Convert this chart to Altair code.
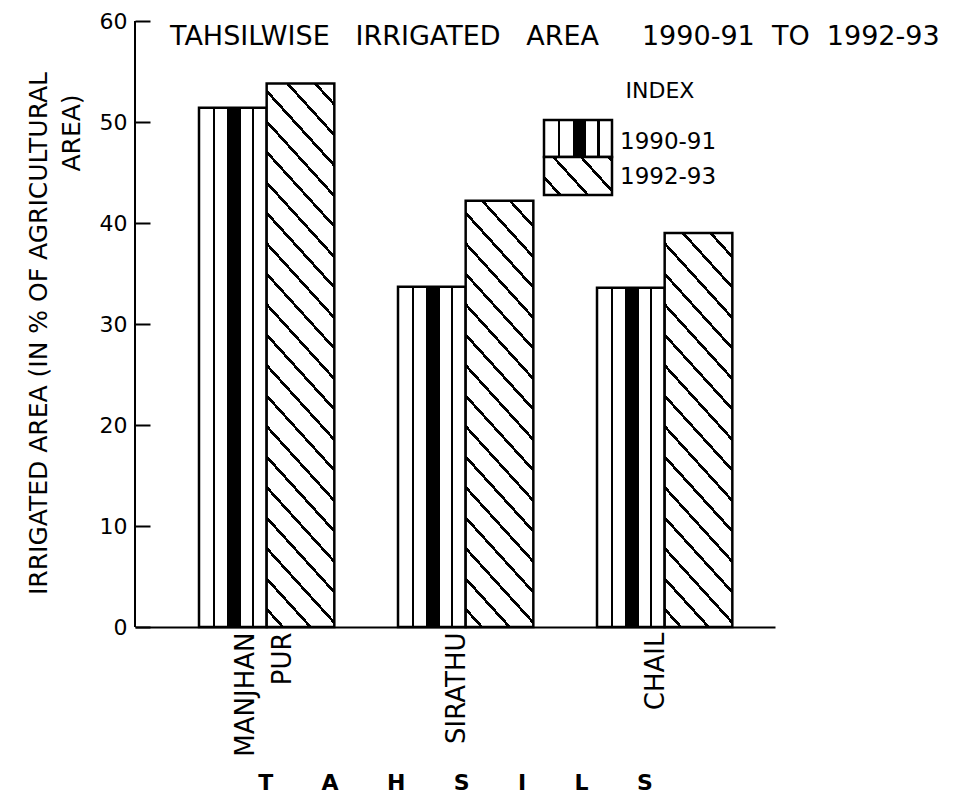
import math
import altair as alt
import pandas as pd

# ---------------- data ----------------
tahsils = ["MANJHAN PUR", "SIRATHU", "CHAIL"]
years = ["1990-91", "1992-93"]
area_1990_91 = [51.4, 33.7, 33.6]
area_1992_93 = [53.8, 42.2, 39.0]
y_ticks = [0, 10, 20, 30, 40, 50, 60]

chart_title = ("TAHSILWISE\u00a0\u00a0\u00a0IRRIGATED\u00a0\u00a0\u00a0AREA"
               "\u00a0\u00a0\u00a0\u00a0\u00a01990-91\u00a0\u00a0TO\u00a0\u00a01992-93")
y_title_1 = "IRRIGATED AREA (IN % OF AGRICULTURAL"
y_title_2 = "AREA)"
x_title = "\u2003\u2003\u2009".join(list("TAHSILS"))
legend_title = "INDEX"

rows = []
for t, a, b in zip(tahsils, area_1990_91, area_1992_93):
    rows.append({"tahsil": t, "year": years[0], "area": a})
    rows.append({"tahsil": t, "year": years[1], "area": b})
df = pd.DataFrame(rows)
legend_df = pd.DataFrame({"year": years})

# ---------------- layout / style ----------------
FONT = "DejaVu Sans"
W, H = 640, 606
Y_MAX = 60
P_INNER, P_OUTER, ALIGN = 0.32, 0.268, 0.6
step = W / (len(tahsils) - P_INNER + 2 * P_OUTER)
bar_w = step * (1 - P_INNER) / 2
px_per_unit = H / Y_MAX


def stops_from(intervals):
    """intervals: list of (t0, t1) black bands within [0, 1]"""
    s = [alt.GradientStop(offset=0, color="white")]
    for t0, t1 in intervals:
        t0 = max(0.0, min(1.0, t0))
        t1 = max(0.0, min(1.0, t1))
        s += [alt.GradientStop(offset=t0, color="white"),
              alt.GradientStop(offset=t0, color="black"),
              alt.GradientStop(offset=t1, color="black"),
              alt.GradientStop(offset=t1, color="white")]
    s.append(alt.GradientStop(offset=1, color="white"))
    return s


def vertical_stripes():
    bands = [(0.205, 0.24), (0.42, 0.62), (0.785, 0.82)]
    return alt.LinearGradient(gradient="linear", x1=0, y1=0, x2=1, y2=0,
                              stops=stops_from(bands))


def diagonal_hatch(w, h, slope=1.1, period=20.5, lw=2.7, phase=12.0):
    r = slope * w / h
    a = (r + 1) / (r * r + 1)
    gx, gy = r * a, -a
    g2 = a * a * (r * r + 1)
    k = math.hypot(gx / w, gy / h) / g2  # gradient t per pixel along normal
    bands = []
    c = phase
    while (c - lw / 2) * k < 1:
        bands.append(((c - lw / 2) * k, (c + lw / 2) * k))
        c += period
    return alt.LinearGradient(gradient="linear", x1=0, y1=1, x2=gx, y2=1 + gy,
                              stops=stops_from(bands))


xscale = alt.Scale(domain=tahsils, paddingInner=P_INNER, paddingOuter=P_OUTER,
                   align=ALIGN, round=False)
yscale = alt.Scale(domain=[0, Y_MAX], nice=False, zero=True)

xaxis = alt.Axis(
    title=x_title, labelAngle=270, labelAlign="right", labelBaseline="middle",
    labelExpr="split(datum.label, ' ')", labelFont=FONT, labelFontSize=26,
    labelColor="black", labelLineHeight=37, labelPadding=5,
    labelOffset={"condition": {"test": f"datum.value == '{tahsils[0]}'",
                               "value": -21},
                 "value": -9},
    labelOverlap=False, labelLimit=0, ticks=False, domainColor="black",
    domainWidth=2, grid=False, titleFont=FONT, titleFontSize=22,
    titleFontWeight="bold", titleColor="black", titleY=155,
    titleBaseline="middle",
)
yaxis = alt.Axis(
    title=y_title_1, values=y_ticks, offset=-15, domain=False, tickSize=15,
    tickWidth=2, tickColor="black", labelPadding=8, labelFont=FONT,
    labelFontSize=22, labelColor="black", grid=False, titleX=-111.5,
    titleY=312, titleAngle=270, titleAlign="center", titleBaseline="middle",
    titleFont=FONT, titleFontSize=25, titleFontWeight="normal",
    titleColor="black",
)

base = alt.Chart(df).encode(
    x=alt.X("tahsil:N", scale=xscale, axis=xaxis, sort=tahsils),
    xOffset=alt.XOffset("year:N", scale=alt.Scale(domain=years)),
    y=alt.Y("area:Q", scale=yscale, axis=yaxis),
)

layers = [
    base.transform_filter(alt.datum.year == years[0]).mark_bar(
        fill=vertical_stripes(), stroke="black", strokeWidth=2.5)
]
for t, v in zip(tahsils, area_1992_93):
    layers.append(
        base.transform_filter(
            (alt.datum.year == years[1]) & (alt.datum.tahsil == t)
        ).mark_bar(fill=diagonal_hatch(bar_w, v * px_per_unit),
                   stroke="black", strokeWidth=2.5)
    )

# y axis line
layers.append(
    alt.Chart(pd.DataFrame({"v": [0]})).mark_rule(color="black", strokeWidth=2)
    .encode(x=alt.value(0), y=alt.datum(0), y2=alt.datum(Y_MAX))
)

# second line of y title
layers.append(
    alt.Chart(pd.DataFrame({"v": [0]})).mark_text(
        text=y_title_2, angle=270, font=FONT, fontSize=25, align="center",
        baseline="middle", color="black")
    .encode(x=alt.value(-63.5), y=alt.value(112))
)

# chart title (inside the plot frame, as in the original)
layers.append(
    alt.Chart(pd.DataFrame({"v": [0]})).mark_text(
        text=chart_title, font=FONT, fontSize=27, align="left",
        baseline="middle", color="black")
    .encode(x=alt.value(35), y=alt.value(16))
)

# legend ("INDEX")
LX, LW = 409, 68
L_TOP, L_MID, L_BOT = 99, 136, 174
layers.append(
    alt.Chart(pd.DataFrame({"v": [0]})).mark_text(
        text=legend_title, font=FONT, fontSize=22, align="center",
        baseline="middle", color="black")
    .encode(x=alt.value(525), y=alt.value(70))
)
layers.append(
    alt.Chart(legend_df).transform_filter(alt.datum.year == years[0])
    .mark_rect(fill=vertical_stripes(), stroke="black", strokeWidth=2.5)
    .encode(x=alt.value(LX), x2=alt.value(LX + LW), y=alt.value(L_TOP),
            y2=alt.value(L_MID))
)
layers.append(
    alt.Chart(legend_df).transform_filter(alt.datum.year == years[1])
    .mark_rect(fill=diagonal_hatch(LW, L_BOT - L_MID), stroke="black",
               strokeWidth=2.5)
    .encode(x=alt.value(LX), x2=alt.value(LX + LW), y=alt.value(L_MID),
            y2=alt.value(L_BOT))
)
for yr, ty in zip(years, [121, 156]):
    layers.append(
        alt.Chart(legend_df).transform_filter(alt.datum.year == yr)
        .mark_text(font=FONT, fontSize=23, align="left", baseline="middle",
                   color="black")
        .encode(text="year:N", x=alt.value(LX + LW + 8), y=alt.value(ty))
    )

chart = alt.layer(*layers).properties(
    width=W, height=H,
    autosize=alt.AutoSizeParams(type="none"),
    padding={"left": 127, "top": 13, "right": 175, "bottom": 168},
    background="white",
).configure_view(strokeWidth=0)

chart.save("out.html", embed_options={"renderer": "svg", "actions": False})
